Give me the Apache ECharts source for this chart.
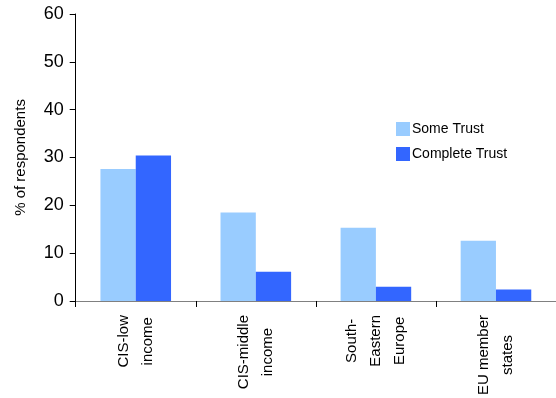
<!DOCTYPE html>
<html>
<head>
<meta charset="utf-8">
<script src="https://cdn.jsdelivr.net/npm/echarts@6/dist/echarts.min.js"></script>
<style>
html,body{margin:0;padding:0;background:#fff;}
#chart{width:556px;height:398px;}
</style>
</head>
<body>
<div id="chart"></div>
<script>
var categories = ['CIS-low\nincome', 'CIS-middle\nincome', 'South-\nEastern\nEurope', 'EU member\nstates'];
var someTrust = [27.6, 18.5, 15.3, 12.6];
var completeTrust = [30.4, 6.1, 3.0, 2.4];
var seriesNames = ['Some Trust', 'Complete Trust'];
var yTicks = {min: 0, max: 60, interval: 10};

var chart = echarts.init(document.getElementById('chart'), null, {renderer: 'canvas'});
var font = 'Liberation Sans, Arial, sans-serif';
chart.setOption({
  animation: false,
  backgroundColor: '#ffffff',
  textStyle: {fontFamily: font},
  grid: {left: 75.7, top: 14, width: 485.3, height: 288, containLabel: false},
  legend: {
    orient: 'vertical',
    left: 396, top: 122, padding: 0,
    itemWidth: 14, itemHeight: 14, itemGap: 11,
    icon: 'rect',
    textStyle: {fontFamily: font, fontSize: 14, color: '#000', padding: [0,0,0,-3]},
    data: seriesNames
  },
  xAxis: {
    type: 'category',
    data: categories,
    axisLine: {lineStyle: {color: '#808080', width: 1}},
    axisTick: {show: true, length: 6, inside: false, lineStyle: {color: '#000'}},
    axisLabel: {
      rotate: 90, margin: 14, fontSize: 15, lineHeight: 24, color: '#000', fontFamily: font, interval: 0,
      formatter: function (v) {
        return v.split('\n').map(function (s) { return '{c|' + s + '}'; }).join('\n');
      },
      rich: {c: {align: 'center', fontSize: 15, lineHeight: 24, fontFamily: font, color: '#000'}}
    },
    splitLine: {show: false}
  },
  yAxis: {
    type: 'value',
    min: yTicks.min, max: yTicks.max, interval: yTicks.interval,
    name: '% of respondents',
    nameLocation: 'middle',
    nameRotate: 90,
    nameGap: 47,
    nameTextStyle: {fontSize: 15, color: '#000', fontFamily: font},
    axisLine: {show: true, lineStyle: {color: '#000', width: 1}},
    axisTick: {show: true, length: 6, lineStyle: {color: '#000'}},
    axisLabel: {fontSize: 18, color: '#000', margin: 12, fontFamily: font},
    splitLine: {show: false}
  },
  series: [
    {name: seriesNames[0], type: 'bar', data: someTrust, barWidth: 35.3, barGap: '0%',
     itemStyle: {color: '#99CCFF'}},
    {name: seriesNames[1], type: 'bar', data: completeTrust, barWidth: 35.3, barGap: '0%',
     itemStyle: {color: '#3366FF'}}
  ]
});
</script>
</body>
</html>
